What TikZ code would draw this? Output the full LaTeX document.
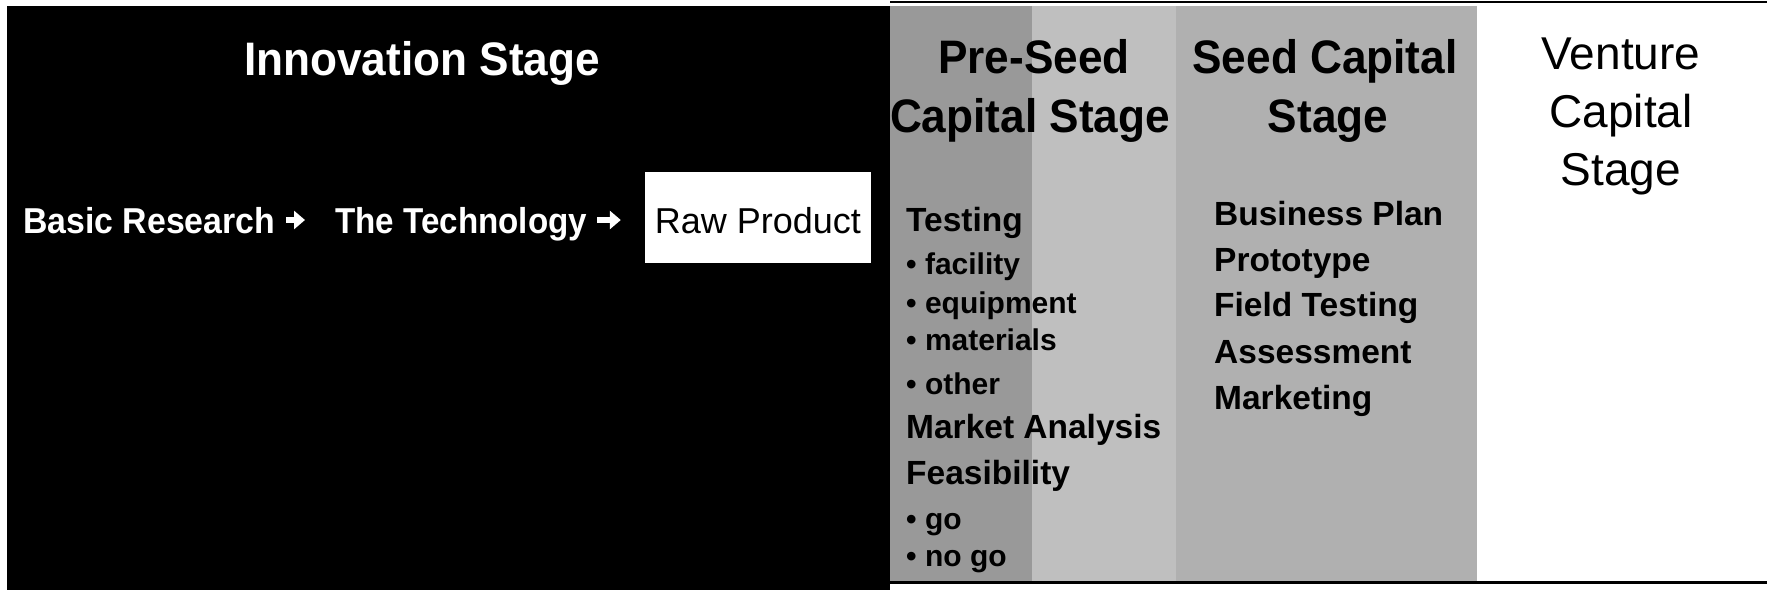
\documentclass[tikz,border=0pt]{standalone}
\usepackage{fontspec}
\setmainfont{Liberation Sans}
\newfontfamily\cond{Liberation Sans}[FakeStretch=0.94]
\usetikzlibrary{arrows.meta}
\definecolor{pregray}{gray}{0.6}
\definecolor{bandgray}{gray}{0.75}
\definecolor{seedgray}{gray}{0.69}
\begin{document}
\begin{tikzpicture}[x=1pt,y=-1pt,
  ttl/.style={font={\cond\bfseries\fontsize{47}{56}\selectfont}, inner sep=0pt, anchor=base},
  vttl/.style={font={\fontsize{46}{56}\selectfont}, inner sep=0pt, anchor=base},
  rowt/.style={font={\cond\bfseries\fontsize{36}{42}\selectfont}, text=white, inner sep=0pt, anchor=base west, text height=26pt, text depth=7pt},
  lmain/.style={font={\bfseries\fontsize{33.5}{40}\selectfont}, inner sep=0pt, anchor=base west},
  lsub/.style={font={\bfseries\fontsize{30}{36}\selectfont}, inner sep=0pt, anchor=base west},
  arr/.style={white, line width=6pt, -{Triangle[width=18pt,length=11pt]}}
]
\useasboundingbox (0,0) rectangle (1767,590);
\fill[white] (0,0) rectangle (1767,590);
% columns
\fill[black] (7,6) rectangle (890,590);
\fill[pregray] (890,6) rectangle (1032,582);
\fill[bandgray] (1032,6) rectangle (1176,582);
\fill[seedgray] (1176,6) rectangle (1477,582);
\draw[line width=2pt] (890,1.5) -- (1767,1.5);
\draw[line width=3pt] (890,582) -- (1767,582);
% titles
\node[ttl, text=white] (inn) at (422,75) {Innovation Stage};
\node[ttl] (pre1) at (1034,73) {Pre-Seed};
\node[ttl] (pre2) at (1030,132) {Capital Stage};
\node[ttl] (seed1) at (1325,73) {Seed Capital};
\node[ttl] (seed2) at (1328,132) {Stage};
\node[vttl] (v1) at (1621,69) {Venture};
\node[vttl] (v2) at (1621,127) {Capital};
\node[vttl] (v3) at (1621,185) {Stage};
% innovation row
\node[rowt] (br) at (23,233) {Basic Research};
\node[rowt] (tech) at (335,233) {\scalebox{0.98}[1]{The Technology}};
\node[fill=white, inner sep=0pt, anchor=base, text height=38pt, text depth=7pt,
      minimum width=226pt, minimum height=91pt,
      font={\fontsize{36}{42}\selectfont}] (raw) at (758,233) {Raw Product};
\coordinate (a1) at ([yshift=3.5pt]br.east);
\coordinate (a2) at ([yshift=3.5pt]tech.east);
\draw[arr, shorten <=11pt, shorten >=30pt] (a1) -- (a1 -| tech.west);
\draw[arr, shorten <=10pt, shorten >=24pt] (a2) -- (a2 -| raw.west);
% pre-seed list
\node[lmain] (t1) at (906,231) {Testing};
\node[lsub] (t2) at (906,274) {• facility};
\node[lsub] (t3) at (906,313) {• equipment};
\node[lsub] (t4) at (906,350) {• materials};
\node[lsub] (t5) at (906,394) {• other};
\node[lmain] (t6) at (906,438) {Market Analysis};
\node[lmain] (t7) at (906,484) {Feasibility};
\node[lsub] (t8) at (906,529) {• go};
\node[lsub] (t9) at (906,566) {• no go};
% seed list
\node[lmain] (s1) at (1214,225) {Business Plan};
\node[lmain] (s2) at (1214,271) {Prototype};
\node[lmain] (s3) at (1214,316) {Field Testing};
\node[lmain] (s4) at (1214,363) {Assessment};
\node[lmain] (s5) at (1214,409) {Marketing};
\end{tikzpicture}
\end{document}
